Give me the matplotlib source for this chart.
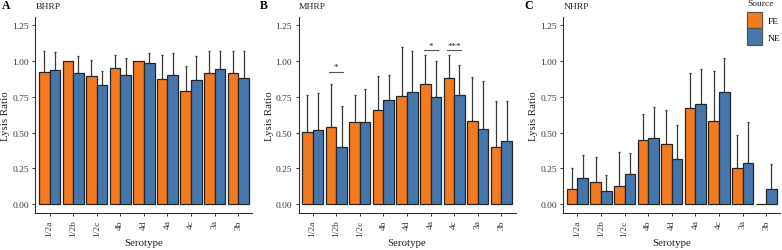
import matplotlib
matplotlib.use("Agg")
import matplotlib.pyplot as plt
import numpy as np
from matplotlib.patches import Patch

plt.rcParams['font.family'] = ['Liberation Serif', 'DejaVu Serif']

serotypes = ["1/2a", "1/2b", "1/2c", "4b", "4d", "4a", "4c", "3a", "3b"]
sources = ["FE", "NE"]

# Panel A: BHRP
bhrp_fe = [0.926, 1.000, 0.898, 0.949, 1.000, 0.877, 0.791, 0.914, 0.914]
bhrp_ne = [0.937, 0.919, 0.833, 0.903, 0.986, 0.905, 0.868, 0.944, 0.879]
bhrp_fe_top = [1.074, 1.000, 1.007, 1.042, 1.000, 1.046, 0.965, 1.070, 1.070]
bhrp_ne_top = [1.063, 1.035, 0.928, 1.021, 1.056, 1.060, 1.035, 1.070, 1.070]

# Panel B: MHRP
mhrp_fe = [0.505, 0.537, 0.572, 0.660, 0.755, 0.840, 0.884, 0.583, 0.396]
mhrp_ne = [0.518, 0.398, 0.572, 0.729, 0.782, 0.748, 0.766, 0.525, 0.444]
mhrp_fe_top = [0.760, 0.838, 0.764, 0.894, 1.100, 1.042, 1.046, 0.889, 0.722]
mhrp_ne_top = [0.780, 0.687, 0.806, 0.903, 1.070, 1.000, 0.972, 0.861, 0.722]

# Panel C: NHRP
nhrp_fe = [0.102, 0.155, 0.127, 0.451, 0.419, 0.669, 0.582, 0.250, 0.000]
nhrp_ne = [0.183, 0.093, 0.208, 0.465, 0.315, 0.703, 0.784, 0.288, 0.102]
nhrp_fe_top = [0.255, 0.331, 0.366, 0.630, 0.655, 0.919, 0.930, 0.483, 0.000]
nhrp_ne_top = [0.345, 0.201, 0.359, 0.676, 0.553, 0.942, 1.021, 0.575, 0.278]

# significance annotations for MHRP: (serotype, label, line height)
mhrp_sig = [("1/2b", "*", 0.926), ("4a", "*", 1.076), ("4c", "***", 1.076)]

panels = [
    ("A", "BHRP", bhrp_fe, bhrp_ne, bhrp_fe_top, bhrp_ne_top, []),
    ("B", "MHRP", mhrp_fe, mhrp_ne, mhrp_fe_top, mhrp_ne_top, mhrp_sig),
    ("C", "NHRP", nhrp_fe, nhrp_ne, nhrp_fe_top, nhrp_ne_top, []),
]

W, H = 782, 251
fig = plt.figure(figsize=(W / 100, H / 100), dpi=100)

def fx(x):
    return x / W

def fy(y):
    return 1 - y / H

col_fe = "#F47A20"
col_ne = "#4577AD"
edge = "#262626"
errc = "#3a3a3a"

lefts = [35.4, 298.5, 563.3]
ax_w = 217.0
ax_top, ax_bot = 17.5, 214.0
tag_x = [2.0, 260.0, 524.0]

yticks = [0.0, 0.25, 0.50, 0.75, 1.00, 1.25]
x = np.arange(1, len(serotypes) + 1)
bw = 0.45

for i, (tag, title, fe, ne, fe_top, ne_top, sig) in enumerate(panels):
    L = lefts[i]
    ax = fig.add_axes([fx(L), fy(ax_bot), ax_w / W, (ax_bot - ax_top) / H])
    fe = np.array(fe); ne = np.array(ne)
    fe_err = np.clip(np.array(fe_top) - fe, 0, None)
    ne_err = np.clip(np.array(ne_top) - ne, 0, None)
    for xs, vals, err, c in [(x - bw / 2, fe, fe_err, col_fe), (x + bw / 2, ne, ne_err, col_ne)]:
        mask = err > 0
        ax.errorbar(xs[mask], vals[mask], yerr=[np.zeros(mask.sum()), err[mask]],
                    fmt="none", ecolor=errc, elinewidth=0.9, capsize=1.0, capthick=0.9, zorder=1)
        ax.bar(xs, vals, width=bw, color=c, edgecolor=edge, linewidth=0.9, zorder=2)
    for s, lab, h in sig:
        k = serotypes.index(s) + 1
        ax.plot([k - 0.3, k + 0.3], [h, h], color="#555555", lw=0.8, zorder=3)
        ax.text(k, h + 0.005, lab, ha="center", va="bottom", fontsize=6.5, color="#222222")
    ax.set_xlim(0.4, 9.6)
    ax.set_ylim(-0.0625, 1.3125)
    ax.set_yticks(yticks)
    ax.set_yticklabels([f"{t:.2f}" for t in yticks])
    ax.set_xticks(x)
    ax.set_xticklabels(serotypes, rotation=90)
    for sp in ["top", "right"]:
        ax.spines[sp].set_visible(False)
    for sp in ["left", "bottom"]:
        ax.spines[sp].set_color("#333333")
        ax.spines[sp].set_linewidth(0.8)
    ax.tick_params(axis="both", length=2.5, width=0.7, color="#333333",
                   labelsize=6.8, labelcolor="#3a3a3a", pad=2.0)
    ax.set_xlabel("Serotype", fontsize=7.8, labelpad=1.0, color="#222222")
    ax.set_ylabel("Lysis Ratio", fontsize=7.8, labelpad=1.5, color="#222222")
    fig.text(fx(tag_x[i]), fy(6.0), tag, fontsize=8.5, fontweight="bold", va="center", ha="left")
    fig.text(fx(L), fy(7.0), title, fontsize=6.8, va="center", ha="left", color="#222222")

handles = [Patch(facecolor=col_fe, edgecolor="#555555", linewidth=0.9, label="FE"),
           Patch(facecolor=col_ne, edgecolor="#555555", linewidth=0.9, label="NE")]
fig.text(fx(747.5), fy(4.5), "Source", fontsize=6.8, va="center", ha="left", color="#222222")
leg = fig.legend(handles=handles, loc="upper left",
                 bbox_to_anchor=(fx(747.0), fy(13.0)), frameon=False,
                 fontsize=6.8, handlelength=1.6, handleheight=2.3,
                 labelspacing=0.0, handletextpad=0.55, borderpad=0.0, borderaxespad=0.0)

fig.savefig("out.png", dpi=100)
